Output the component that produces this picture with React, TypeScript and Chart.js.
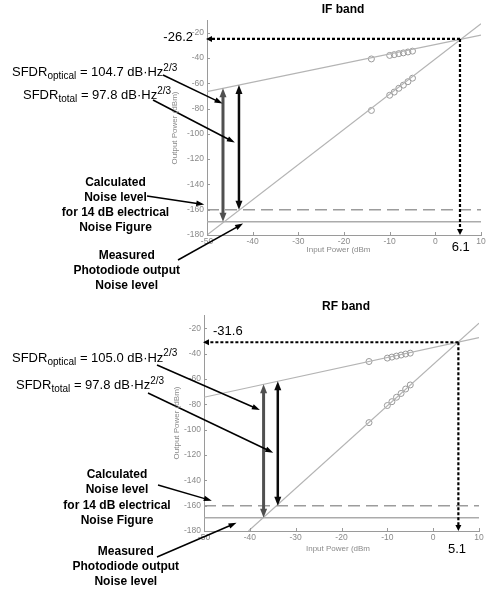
import React, { useEffect, useRef } from "react";
import { Chart, registerables } from "chart.js";

Chart.register(...registerables);

const FONT = "'Liberation Sans', Arial, Helvetica, sans-serif";
const W = 489;
const H = 297;

// ---------- data ----------
const X_MIN = -50;
const X_MAX = 10;
const X_STEP = 10;
const Y_MIN = -180;
const Y_MAX = -10;
const Y_STEP = 20;

const MEAS_X = [-14, -10, -9, -8, -7, -6, -5];
const NOISE_X = [-50, 10];
const NOISE_CALC_Y = [-160, -160];
const NOISE_MEAS_Y = [-169.5, -169.5];

// IF band
const IF_FUND_LINE_X = [-50, 10];
const IF_FUND_LINE_Y = [-66.6, -22];
const IF_IMD_LINE_X = [-50, 10];
const IF_IMD_LINE_Y = [-180, -13];
const IF_FUND_MEAS_Y = [-40.8, -38, -37.4, -36.6, -36, -35.3, -34.6];
const IF_IMD_MEAS_Y = [-81.5, -69.5, -67, -64, -61.5, -58.8, -56];
const IF_INTERCEPT = [5.4, -25];
const IF_INTERCEPT_LABELS = ["-26.2", "6.1"];
const IF_SFDR_VALUES = ["104.7", "97.8"];
const IF_OPT_ARROW = [-46.5, -64.0, -169.5];
const IF_TOT_ARROW = [-43.0, -61.4, -160];
const IF_POINTER_TIPS = [[-46.6, -76], [-43.9, -106.9], [-50.6, -155.9], [-42.1, -171]];

// RF band
const RF_FUND_LINE_X = [-50, 10];
const RF_FUND_LINE_Y = [-74.5, -27.4];
const RF_IMD_LINE_X = [-40.3, 10];
const RF_IMD_LINE_Y = [-180, -16];
const RF_FUND_MEAS_Y = [-46.3, -43.6, -42.8, -42, -41.2, -40.4, -39.7];
const RF_IMD_MEAS_Y = [-94.5, -81, -78, -74.5, -71.5, -68, -64.8];
const RF_INTERCEPT = [5.5, -31.1];
const RF_INTERCEPT_LABELS = ["-31.6", "5.1"];
const RF_SFDR_VALUES = ["105.0", "97.8"];
const RF_OPT_ARROW = [-37.0, -64.3, -169.5];
const RF_TOT_ARROW = [-33.9, -61.8, -160];
const RF_POINTER_TIPS = [[-37.8, -84.5], [-34.9, -118.2], [-48.3, -156.1], [-42.9, -173.5]];

const CALC_LINES = ["Calculated", "Noise level", "for 14 dB electrical", "Noise Figure"];
const MEAS_LINES = ["Measured", "Photodiode output", "Noise level"];

// ---------- layout ----------
type Layout = {
  title: string;
  area: { left: number; right: number; top: number; bottom: number };
  titlePos: [number, number];
  yTitlePos: [number, number];
  xTitlePos: [number, number];
  sfdr1: [number, number];
  sfdr2: [number, number];
  calcCenter: number;
  calcY: number[];
  measCenter: number;
  measY: number[];
  tails: number[][];
  yLabelPos: [number, number, string];
  xLabelPos: [number, number, string];
};

const IF_LAYOUT: Layout = {
  title: "IF band",
  area: { left: 207, right: 481, top: 20, bottom: 235 },
  titlePos: [343, 9.5],
  yTitlePos: [175, 128],
  xTitlePos: [338.5, 249.5],
  sfdr1: [12, 76],
  sfdr2: [23, 99],
  calcCenter: 115.5,
  calcY: [183, 198, 213, 228],
  measCenter: 126.7,
  measY: [256, 271, 286],
  tails: [[163, 75], [153, 100], [147, 196], [178, 260]],
  yLabelPos: [193, 37, "right"],
  xLabelPos: [451.7, 247, "left"],
};

const RF_LAYOUT: Layout = {
  title: "RF band",
  area: { left: 204, right: 479, top: 18.5, bottom: 234 },
  titlePos: [346, 9.7],
  yTitlePos: [177, 126],
  xTitlePos: [338, 252],
  sfdr1: [12, 64.7],
  sfdr2: [16, 92.3],
  calcCenter: 117,
  calcY: [178, 193, 208.5, 224],
  measCenter: 125.8,
  measY: [254.7, 269.7, 284.7],
  tails: [[157, 68], [148, 96], [158, 188], [157, 260]],
  yLabelPos: [213, 34, "left"],
  xLabelPos: [448, 252, "left"],
};

type Panel = {
  fundX: number[]; fundY: number[];
  imdX: number[]; imdY: number[];
  fundMeasY: number[]; imdMeasY: number[];
  intercept: number[]; interceptLabels: string[];
  sfdr: string[];
  optArrow: number[]; totArrow: number[];
  tips: number[][];
  layout: Layout;
};

const PANELS: Panel[] = [
  {
    fundX: IF_FUND_LINE_X, fundY: IF_FUND_LINE_Y,
    imdX: IF_IMD_LINE_X, imdY: IF_IMD_LINE_Y,
    fundMeasY: IF_FUND_MEAS_Y, imdMeasY: IF_IMD_MEAS_Y,
    intercept: IF_INTERCEPT, interceptLabels: IF_INTERCEPT_LABELS,
    sfdr: IF_SFDR_VALUES, optArrow: IF_OPT_ARROW, totArrow: IF_TOT_ARROW,
    tips: IF_POINTER_TIPS, layout: IF_LAYOUT,
  },
  {
    fundX: RF_FUND_LINE_X, fundY: RF_FUND_LINE_Y,
    imdX: RF_IMD_LINE_X, imdY: RF_IMD_LINE_Y,
    fundMeasY: RF_FUND_MEAS_Y, imdMeasY: RF_IMD_MEAS_Y,
    intercept: RF_INTERCEPT, interceptLabels: RF_INTERCEPT_LABELS,
    sfdr: RF_SFDR_VALUES, optArrow: RF_OPT_ARROW, totArrow: RF_TOT_ARROW,
    tips: RF_POINTER_TIPS, layout: RF_LAYOUT,
  },
];

const zip = (xs: number[], ys: number[]) => xs.map((x, i) => ({ x, y: ys[i] }));

// ---------- drawing helpers ----------
function arrowHead(ctx: CanvasRenderingContext2D, x1: number, y1: number, x2: number, y2: number, len: number, wid: number) {
  const a = Math.atan2(y2 - y1, x2 - x1);
  const c = Math.cos(a), s = Math.sin(a);
  ctx.beginPath();
  ctx.moveTo(x2, y2);
  ctx.lineTo(x2 - len * c + (wid / 2) * s, y2 - len * s - (wid / 2) * c);
  ctx.lineTo(x2 - len * c - (wid / 2) * s, y2 - len * s + (wid / 2) * c);
  ctx.closePath();
  ctx.fill();
}

function arrow(ctx: CanvasRenderingContext2D, x1: number, y1: number, x2: number, y2: number, color: string, lw: number, len: number, wid: number, both = false, dash: number[] = []) {
  const a = Math.atan2(y2 - y1, x2 - x1);
  const c = Math.cos(a), s = Math.sin(a);
  ctx.save();
  ctx.strokeStyle = color;
  ctx.fillStyle = color;
  ctx.lineWidth = lw;
  ctx.setLineDash(dash);
  ctx.beginPath();
  const sx = both ? x1 + c * len * 0.7 : x1;
  const sy = both ? y1 + s * len * 0.7 : y1;
  ctx.moveTo(sx, sy);
  ctx.lineTo(x2 - c * len * 0.7, y2 - s * len * 0.7);
  ctx.stroke();
  ctx.setLineDash([]);
  arrowHead(ctx, x1, y1, x2, y2, len, wid);
  if (both) arrowHead(ctx, x2, y2, x1, y1, len, wid);
  ctx.restore();
}

function richText(ctx: CanvasRenderingContext2D, x: number, baseline: number, parts: [string, string][]) {
  let cx = x;
  ctx.textBaseline = "alphabetic";
  ctx.textAlign = "left";
  for (const [t, kind] of parts) {
    if (kind === "n") {
      ctx.font = `13px ${FONT}`;
      ctx.fillText(t, cx, baseline);
    } else if (kind === "sub") {
      ctx.font = `10px ${FONT}`;
      ctx.fillText(t, cx, baseline + 3);
    } else {
      ctx.font = `10px ${FONT}`;
      ctx.fillText(t, cx, baseline - 5.5);
    }
    cx += ctx.measureText(t).width;
  }
}

function makePlugin(p: Panel) {
  const L = p.layout;
  return {
    id: "annot",
    afterDatasetsDraw(chart: any) {
      const ctx: CanvasRenderingContext2D = chart.ctx;
      const xs = chart.scales.x, ys = chart.scales.y;
      const area = chart.chartArea;
      // inward tick marks
      ctx.save();
      ctx.strokeStyle = "#9a9a9a";
      ctx.lineWidth = 1;
      for (const t of ys.ticks) {
        const yy = Math.round(ys.getPixelForValue(t.value)) + 0.5;
        ctx.beginPath(); ctx.moveTo(area.left, yy); ctx.lineTo(area.left + 3, yy); ctx.stroke();
      }
      for (const t of xs.ticks) {
        const xx = Math.round(xs.getPixelForValue(t.value)) + 0.5;
        ctx.beginPath(); ctx.moveTo(xx, area.bottom); ctx.lineTo(xx, area.bottom - 3); ctx.stroke();
      }
      ctx.restore();

      // intercept dotted arrows
      const ix = xs.getPixelForValue(p.intercept[0]);
      const iy = ys.getPixelForValue(p.intercept[1]);
      arrow(ctx, ix, iy, xs.getPixelForValue(X_MIN) - 1, iy, "#000", 2.2, 6, 6, false, [3, 2]);
      arrow(ctx, ix, iy, ix, ys.getPixelForValue(Y_MIN), "#000", 2.2, 6, 6, false, [3, 2]);
    },
    afterDraw(chart: any) {
      const ctx: CanvasRenderingContext2D = chart.ctx;
      const xs = chart.scales.x, ys = chart.scales.y;
      const X = (v: number) => xs.getPixelForValue(v);
      const Y = (v: number) => ys.getPixelForValue(v);

      // SFDR double arrows
      arrow(ctx, X(p.optArrow[0]), Y(p.optArrow[1]), X(p.optArrow[0]), Y(p.optArrow[2]), "#505050", 3, 9, 7, true);
      arrow(ctx, X(p.totArrow[0]), Y(p.totArrow[1]), X(p.totArrow[0]), Y(p.totArrow[2]), "#0a0a0a", 2.5, 9, 7, true);

      // pointer arrows
      p.tips.forEach((tip, i) => {
        const [tx, ty] = L.tails[i];
        arrow(ctx, tx, ty, X(tip[0]), Y(tip[1]), "#000", 1.5, 8, 5.5);
      });

      ctx.save();
      ctx.fillStyle = "#000";
      // title
      ctx.font = `bold 12px ${FONT}`;
      ctx.textAlign = "center";
      ctx.textBaseline = "middle";
      ctx.fillText(L.title, L.titlePos[0], L.titlePos[1]);

      // axis titles
      ctx.fillStyle = "#8a8a8a";
      ctx.font = `8px ${FONT}`;
      ctx.fillText("Input Power (dBm", L.xTitlePos[0], L.xTitlePos[1]);
      ctx.save();
      ctx.translate(L.yTitlePos[0], L.yTitlePos[1]);
      ctx.rotate(-Math.PI / 2);
      ctx.fillText("Output Power (dBm)", 0, 0);
      ctx.restore();

      // intercept labels
      ctx.fillStyle = "#000";
      ctx.font = `13px ${FONT}`;
      ctx.textAlign = L.yLabelPos[2] as CanvasTextAlign;
      ctx.fillText(p.interceptLabels[0], L.yLabelPos[0], L.yLabelPos[1]);
      ctx.textAlign = L.xLabelPos[2] as CanvasTextAlign;
      ctx.fillText(p.interceptLabels[1], L.xLabelPos[0], L.xLabelPos[1]);

      // SFDR texts
      richText(ctx, L.sfdr1[0], L.sfdr1[1], [["SFDR", "n"], ["optical", "sub"], [` = ${p.sfdr[0]} dB\u00B7Hz`, "n"], ["2/3", "sup"]]);
      richText(ctx, L.sfdr2[0], L.sfdr2[1], [["SFDR", "n"], ["total", "sub"], [` = ${p.sfdr[1]} dB\u00B7Hz`, "n"], ["2/3", "sup"]]);

      // bold noise labels
      ctx.font = `bold 12px ${FONT}`;
      ctx.textAlign = "center";
      ctx.textBaseline = "middle";
      CALC_LINES.forEach((t, i) => ctx.fillText(t, L.calcCenter, L.calcY[i]));
      MEAS_LINES.forEach((t, i) => ctx.fillText(t, L.measCenter, L.measY[i]));
      ctx.restore();
    },
  };
}

function makeConfig(p: Panel): any {
  const L = p.layout;
  const lineGray = "#b4b4b4";
  const tickFont = { family: FONT, size: 8.5 };
  return {
    type: "line",
    data: {
      datasets: [
        { data: zip(p.fundX, p.fundY), borderColor: lineGray, borderWidth: 1.2, pointRadius: 0 },
        { data: zip(p.imdX, p.imdY), borderColor: lineGray, borderWidth: 1.2, pointRadius: 0 },
        {
          data: zip(MEAS_X, p.fundMeasY), showLine: false, pointRadius: 3,
          pointBorderColor: "#999", pointBackgroundColor: "rgba(255,255,255,0)", pointBorderWidth: 1,
        },
        {
          data: zip(MEAS_X, p.imdMeasY), showLine: false, pointRadius: 3,
          pointBorderColor: "#999", pointBackgroundColor: "rgba(255,255,255,0)", pointBorderWidth: 1,
        },
        { data: zip(NOISE_X, NOISE_CALC_Y), borderColor: "#9c9c9c", borderWidth: 1.5, borderDash: [12, 6], pointRadius: 0 },
        { data: zip(NOISE_X, NOISE_MEAS_Y), borderColor: "#ababab", borderWidth: 1.5, pointRadius: 0 },
      ],
    },
    options: {
      responsive: false,
      animation: false,
      events: [],
      layout: { padding: { left: 0, right: W - L.area.right, top: L.area.top, bottom: 0 } },
      plugins: { legend: { display: false }, tooltip: { enabled: false }, title: { display: false } },
      scales: {
        x: {
          type: "linear", min: X_MIN, max: X_MAX,
          ticks: { stepSize: X_STEP, color: "#8a8a8a", font: tickFont, padding: 2, maxRotation: 0, autoSkip: false },
          grid: { display: false, drawTicks: false },
          border: { display: true, color: "#9a9a9a", width: 1 },
          afterFit: (s: any) => { s.height = H - L.area.bottom; },
        },
        y: {
          type: "linear", min: Y_MIN, max: Y_MAX,
          afterBuildTicks: (s: any) => { s.ticks = s.ticks.filter((t: any) => t.value % Y_STEP === 0); },
          ticks: { stepSize: Y_STEP, color: "#8a8a8a", font: tickFont, padding: 3, autoSkip: false },
          grid: { display: false, drawTicks: false },
          border: { display: true, color: "#9a9a9a", width: 1 },
          afterFit: (s: any) => { s.width = L.area.left; },
        },
      },
    },
    plugins: [makePlugin(p)],
  };
}

function Panel({ panel, top }: { panel: Panel; top: number }) {
  const ref = useRef<HTMLCanvasElement>(null);
  useEffect(() => {
    if (!ref.current) return;
    const chart = new Chart(ref.current, makeConfig(panel));
    return () => chart.destroy();
  }, [panel]);
  return (
    <canvas
      ref={ref}
      width={W}
      height={H}
      style={{ position: "absolute", left: 0, top, width: W, height: H }}
    />
  );
}

export default function App() {
  return (
    <div style={{ position: "fixed", left: 0, top: 0, width: W, height: 594, background: "#fff", overflow: "hidden" }}>
      <Panel panel={PANELS[0]} top={0} />
      <Panel panel={PANELS[1]} top={297} />
    </div>
  );
}
